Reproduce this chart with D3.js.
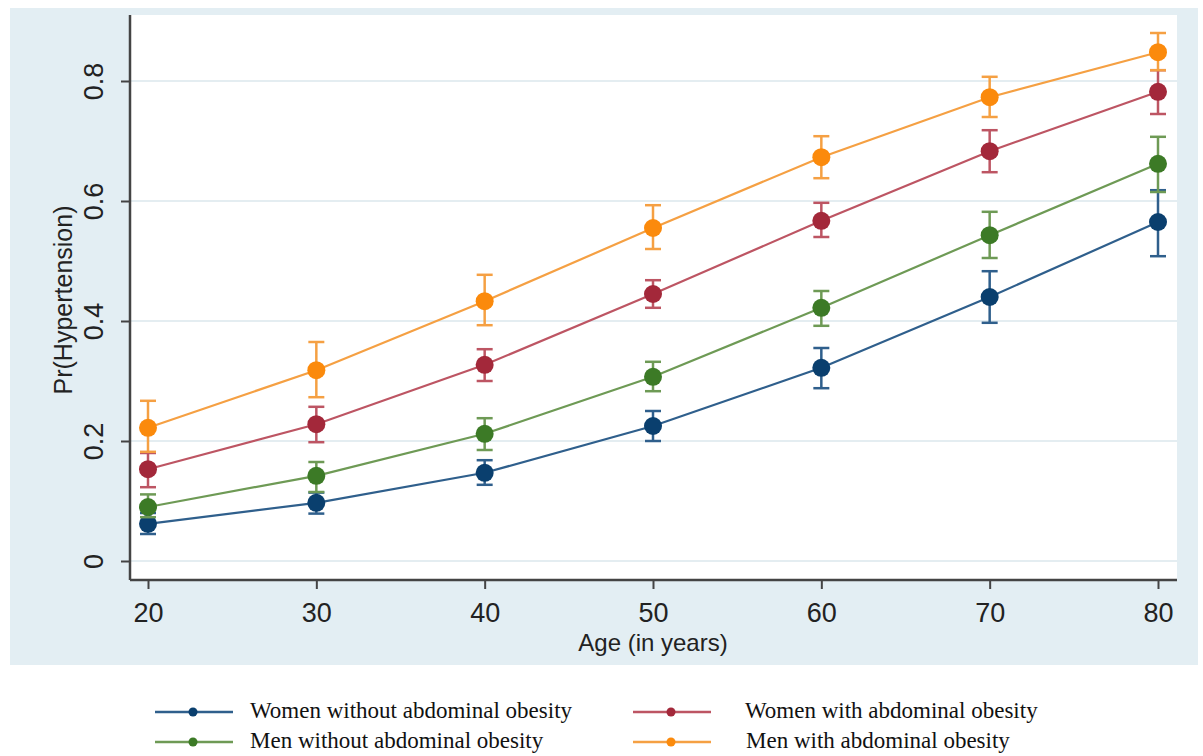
<!DOCTYPE html>
<html>
<head>
<meta charset="utf-8">
<script src="https://cdn.jsdelivr.net/npm/d3@7"></script>
<style>
  html, body { margin: 0; padding: 0; background: #fff; }
  svg { display: block; }
</style>
</head>
<body>
<div id="chart"></div>
<script>
// ages on the x axis
const ages = [20, 30, 40, 50, 60, 70, 80];
const yTicks = [0, 0.2, 0.4, 0.6, 0.8];
const xTicks = [20, 30, 40, 50, 60, 70, 80];

// predicted probability and 95% CI per group
const womenNoObesity = [0.062, 0.097, 0.147, 0.225, 0.322, 0.440, 0.565];
const womenNoObesityLo = [0.045, 0.079, 0.127, 0.200, 0.288, 0.397, 0.508];
const womenNoObesityHi = [0.080, 0.114, 0.168, 0.250, 0.355, 0.483, 0.618];

const menNoObesity = [0.090, 0.142, 0.212, 0.307, 0.422, 0.543, 0.662];
const menNoObesityLo = [0.073, 0.115, 0.185, 0.283, 0.392, 0.505, 0.615];
const menNoObesityHi = [0.111, 0.165, 0.238, 0.332, 0.450, 0.582, 0.707];

const womenObesity = [0.153, 0.228, 0.327, 0.445, 0.567, 0.683, 0.782];
const womenObesityLo = [0.123, 0.198, 0.300, 0.422, 0.540, 0.648, 0.745];
const womenObesityHi = [0.180, 0.257, 0.353, 0.468, 0.597, 0.718, 0.818];

const menObesity = [0.222, 0.318, 0.433, 0.555, 0.673, 0.773, 0.848];
const menObesityLo = [0.182, 0.273, 0.393, 0.520, 0.638, 0.740, 0.818];
const menObesityHi = [0.267, 0.365, 0.477, 0.593, 0.708, 0.807, 0.880];

const series = [
  { name: 'Women without abdominal obesity', v: womenNoObesity, lo: womenNoObesityLo, hi: womenNoObesityHi, line: '#2f5f8c', dot: '#0a3f6e' },
  { name: 'Men without abdominal obesity', v: menNoObesity, lo: menNoObesityLo, hi: menNoObesityHi, line: '#6e9a55', dot: '#3c7a26' },
  { name: 'Women with abdominal obesity', v: womenObesity, lo: womenObesityLo, hi: womenObesityHi, line: '#bd5563', dot: '#a3283a' },
  { name: 'Men with abdominal obesity', v: menObesity, lo: menObesityLo, hi: menObesityHi, line: '#f5a043', dot: '#fb8a0c' }
];

const W = 1203, H = 756;
const svg = d3.select('#chart').append('svg').attr('width', W).attr('height', H);

// outer light blue frame + white plot region
svg.append('rect').attr('x', 10).attr('y', 8).attr('width', 1188).attr('height', 657).attr('fill', '#e3eef3');
svg.append('rect').attr('x', 130).attr('y', 15).attr('width', 1047).attr('height', 565).attr('fill', '#ffffff');

const x = d3.scaleLinear().domain([20, 80]).range([148, 1158]);
const y = d3.scaleLinear().domain([0, 0.8]).range([561, 81]);

// gridlines
svg.append('g').selectAll('line').data(yTicks).join('line')
  .attr('x1', 131).attr('x2', 1177)
  .attr('y1', d => y(d)).attr('y2', d => y(d))
  .attr('stroke', '#e4edf1').attr('stroke-width', 2);

// axes
const yAxis = svg.append('g').attr('transform', 'translate(130,0)')
  .call(d3.axisLeft(y).tickValues(yTicks).tickSize(9).tickFormat(d => d === 0 ? '0' : d3.format('.1f')(d)));
yAxis.select('.domain').attr('d', 'M0,15V580');
yAxis.selectAll('.tick text')
  .attr('transform', 'translate(-36,0) rotate(-90)')
  .attr('x', 0).attr('y', 0).attr('dy', '0.35em')
  .attr('text-anchor', 'middle');

const xAxis = svg.append('g').attr('transform', 'translate(0,580)')
  .call(d3.axisBottom(x).tickValues(xTicks).tickSize(9));
xAxis.select('.domain').attr('d', 'M130,0H1177');
xAxis.selectAll('.tick text').attr('y', 0).attr('dy', '42px');

svg.selectAll('.tick line').attr('stroke', '#444').attr('stroke-width', 2);
svg.selectAll('.domain').attr('stroke', '#444').attr('stroke-width', 2.5);
svg.selectAll('.tick text')
  .attr('fill', '#222').style('font-family', 'Liberation Sans, Arial, sans-serif').style('font-size', '27px');

// axis titles
svg.append('text')
  .attr('transform', 'translate(72,300) rotate(-90)')
  .attr('text-anchor', 'middle')
  .style('font-family', 'Liberation Sans, Arial, sans-serif').style('font-size', '25px')
  .attr('fill', '#222').text('Pr(Hypertension)');
svg.append('text')
  .attr('x', 653).attr('y', 651).attr('text-anchor', 'middle')
  .style('font-family', 'Liberation Sans, Arial, sans-serif').style('font-size', '24px')
  .attr('fill', '#222').text('Age (in years)');

const line = d3.line().x(d => x(d[0])).y(d => y(d[1]));

series.forEach(s => {
  const g = svg.append('g');
  const pts = ages.map((a, k) => [a, s.v[k]]);
  g.append('path').datum(pts).attr('d', line)
    .attr('fill', 'none').attr('stroke', s.line).attr('stroke-width', 2.2);
  ages.forEach((a, k) => {
    const cx = x(a);
    g.append('line').attr('x1', cx).attr('x2', cx).attr('y1', y(s.lo[k])).attr('y2', y(s.hi[k]))
      .attr('stroke', s.line).attr('stroke-width', 2.5);
    [s.lo[k], s.hi[k]].forEach(e => {
      g.append('line').attr('x1', cx - 8).attr('x2', cx + 8).attr('y1', y(e)).attr('y2', y(e))
        .attr('stroke', s.line).attr('stroke-width', 2.5);
    });
    g.append('circle').attr('cx', cx).attr('cy', y(s.v[k])).attr('r', 9).attr('fill', s.dot);
  });
});

// legend
const legendPos = [
  { lx: 155, tx: 250, ty: 712 },
  { lx: 155, tx: 250, ty: 742 },
  { lx: 633, tx: 745, ty: 712 },
  { lx: 633, tx: 746, ty: 742 }
];
series.forEach((s, i) => {
  const p = legendPos[i];
  const g = svg.append('g');
  g.append('line').attr('x1', p.lx).attr('x2', p.lx + 78).attr('y1', p.ty).attr('y2', p.ty)
    .attr('stroke', s.line).attr('stroke-width', 2.5);
  g.append('circle').attr('cx', p.lx + 38).attr('cy', p.ty).attr('r', 4.5).attr('fill', s.dot);
  g.append('text').attr('x', p.tx).attr('y', p.ty + 6)
    .style('font-family', 'Liberation Serif, Times New Roman, serif').style('font-size', '23px')
    .attr('fill', '#111').text(s.name);
});
</script>
</body>
</html>
